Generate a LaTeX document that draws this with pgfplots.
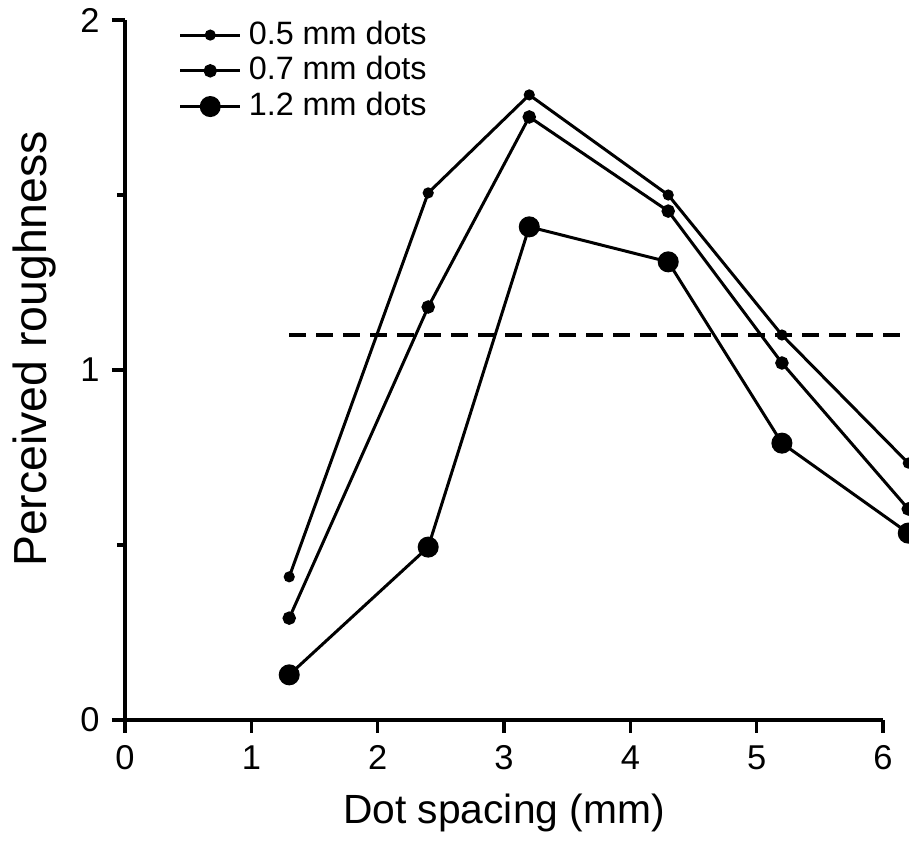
\documentclass[border=0pt]{standalone}
\usepackage{fontspec}
\setmainfont{Liberation Sans}
\usepackage{pgfplots}
\pgfplotsset{compat=1.18}

\begin{document}
\begin{tikzpicture}
\begin{axis}[scale only axis,width=75.8mm,height=70mm,
  xmin=0,xmax=6,ymin=0,ymax=2,clip=false,
  axis lines=left,axis line style={-,line width=1pt},
  xtick={0,1,2,3,4,5,6},ytick={0,1,2},minor ytick={0.5,1.5},
  tick align=outside,major tick length=1.3mm,minor tick length=0.8mm,
  tick style={line width=1pt,black},
  /pgf/number format/assume math mode=true,
  tick label style={font=\fontsize{9.8pt}{11pt}\selectfont},
  xlabel={Dot spacing (mm)},ylabel={Perceived roughness},
  xlabel style={font=\fontsize{11.6pt}{14pt}\selectfont},
  ylabel style={font=\fontsize{13.2pt}{15pt}\selectfont,at={(ticklabel cs:0.53)}},
  legend style={draw=none,fill=none,at={(rel axis cs:0.07,1.01)},anchor=north west,
    font=\fontsize{9.2pt}{11pt}\selectfont,row sep=-2pt,inner sep=0pt},
  legend cell align=left,
  legend image code/.code={\draw[#1,mark repeat=2,mark phase=2] plot coordinates {(0cm,0cm) (0.3cm,0cm) (0.6cm,0cm)};},
  every axis plot/.append style={line width=0.85pt,black}]
\addplot[mark=*,mark size=0.4mm] coordinates {(1.3,0.409) (2.4,1.506) (3.2,1.786) (4.3,1.5) (5.2,1.1) (6.2,0.734)};
\addplot[mark=*,mark size=0.52mm] coordinates {(1.3,0.291) (2.4,1.18) (3.2,1.723) (4.3,1.454) (5.2,1.02) (6.2,0.603)};
\addplot[mark=*,mark size=0.9mm] coordinates {(1.3,0.129) (2.4,0.494) (3.2,1.409) (4.3,1.309) (5.2,0.791) (6.2,0.534)};
\addplot[forget plot,line width=1.2pt,dash pattern=on 1.7mm off 1mm] coordinates {(1.3,1.1) (6.6,1.1)};
\legend{0.5 mm dots,0.7 mm dots,1.2 mm dots}
\end{axis}
\pgfresetboundingbox
\useasboundingbox (-12.5mm,-12.6mm) rectangle (78.4mm,72mm);
\end{tikzpicture}
\end{document}
